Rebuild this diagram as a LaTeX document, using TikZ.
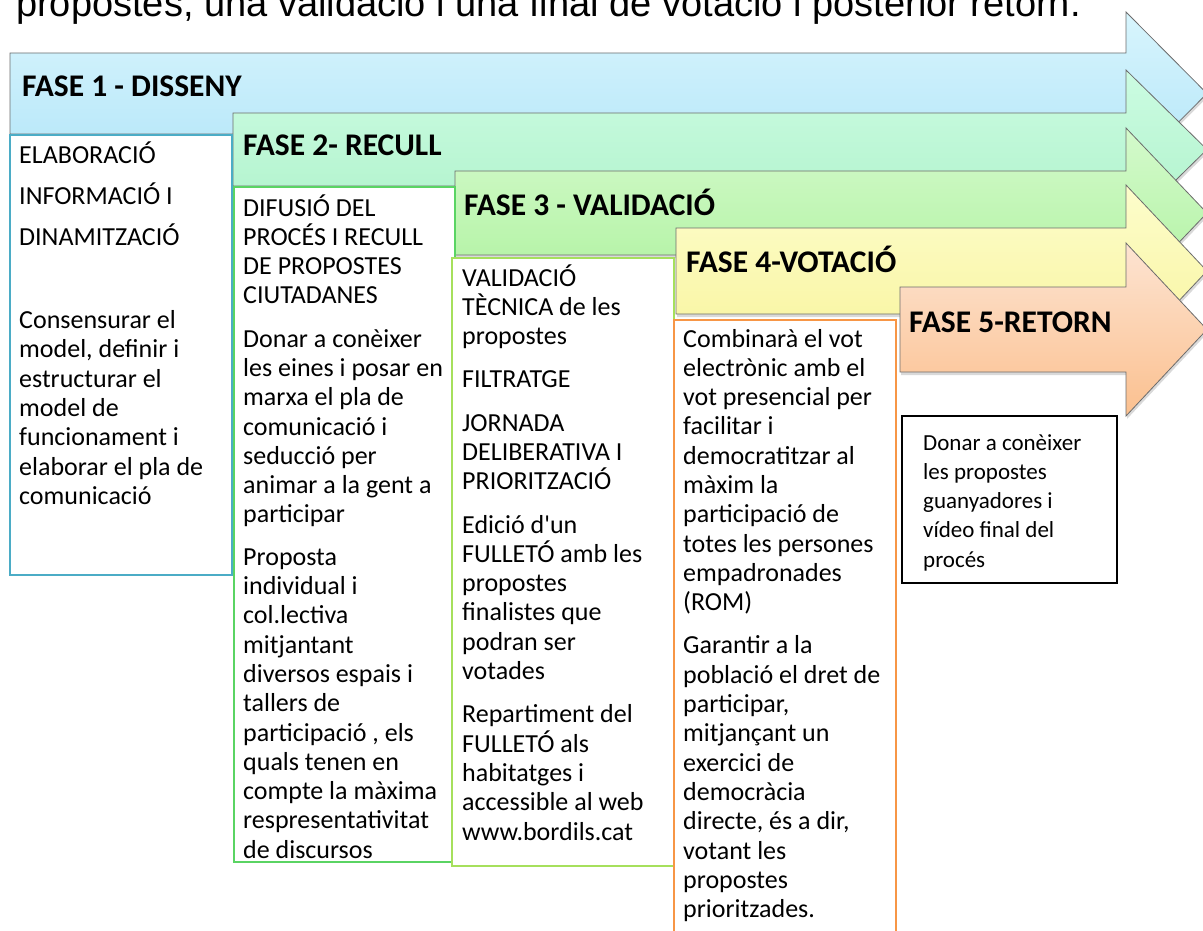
\documentclass[tikz,border=0pt]{standalone}
\usepackage{fontspec}
\setmainfont{Carlito}
\newfontfamily\arialfont{Liberation Sans}
\usepackage{tikz}
\usetikzlibrary{shadows}
\usetikzlibrary{positioning}

\definecolor{fase1top}{HTML}{D8F5FD}
\definecolor{fase1bot}{HTML}{B2E5F8}
\definecolor{fase2top}{HTML}{CCFCE2}
\definecolor{fase2bot}{HTML}{AEF2CA}
\definecolor{fase3top}{HTML}{D4FACC}
\definecolor{fase3bot}{HTML}{AEF29E}
\definecolor{fase4top}{HTML}{FDFDCC}
\definecolor{fase4bot}{HTML}{F8F49C}
\definecolor{fase5top}{HTML}{FDE4D2}
\definecolor{fase5bot}{HTML}{FBC08F}
\definecolor{frame1}{HTML}{4BACC6}
\definecolor{frame2}{HTML}{5AD463}
\definecolor{frame3}{HTML}{A6E05C}
\definecolor{frame4}{HTML}{F79646}

\begin{document}
\begin{tikzpicture}[x=1pt, y=-1pt, phase/.style={draw=gray!85!black, line width=0.8pt, drop shadow={shadow xshift=1pt, shadow yshift=-3pt, opacity=0.3}}, title/.style={anchor=base west, inner sep=0pt, font=\fontsize{31.5}{36}\selectfont\bfseries}, body/.style={anchor=base west, inner sep=0pt, align=flush left, text width=214pt, font=\fontsize{26}{29.3}\selectfont}, frame/.style={line width=1.5pt, fill=white}]
\useasboundingbox (0,0) rectangle (1203,931);
\clip (0,0) rectangle (1203,931);
\node [anchor=base west, inner sep=0pt, font=\arialfont\fontsize{38}{44}\selectfont] (intro) at (16,17) {propostes, una validació i una final de votació i posterior retorn.};
\path [phase, top color=fase1top, bottom color=fase1bot] (10,53) -- (1126,53) -- (1126,12) -- (1207,93.5) -- (1126,175) -- (1126,134) -- (10,134) -- cycle;
\path [phase, top color=fase2top, bottom color=fase2bot] (233,113) -- (1126,113) -- (1126,70) -- (1207,149.5) -- (1126,229) -- (1126,186) -- (233,186) -- cycle;
\path [phase, top color=fase3top, bottom color=fase3bot] (455,171) -- (1126,171) -- (1126,128) -- (1207,213) -- (1126,298) -- (1126,255) -- (455,255) -- cycle;
\path [phase, top color=fase4top, bottom color=fase4bot] (676,228) -- (1126,228) -- (1126,185) -- (1207,271) -- (1126,357) -- (1126,314) -- (676,314) -- cycle;
\path [phase, top color=fase5top, bottom color=fase5bot] (900,287) -- (1126,287) -- (1126,243) -- (1207,329.5) -- (1126,416) -- (1126,372) -- (900,372) -- cycle;
\node [title] (h1) at (22,97) {FASE 1 - DISSENY};
\node [title] (h2) at (243,156) {FASE 2- RECULL};
\node [title] (h3) at (464,215) {FASE 3 - VALIDACIÓ};
\node [title] (h4) at (686,272) {FASE 4-VOTACIÓ};
\node [title] (h5) at (909,332) {FASE 5-RETORN};
\draw [frame, draw=frame1] (10,135) rectangle (232,575);
\draw [frame, draw=frame2] (234,187) rectangle (455,862);
\draw [frame, draw=frame3] (452,258) rectangle (674,866);
\draw [frame, draw=frame4] (674,320) rectangle (896,945);
\draw [frame, draw=black] (902,416) rectangle (1117,583);
\node [body] (t1) at (19,164) {ELABORACIÓ\\[11.5pt]INFORMACIÓ I\\[11.5pt]DINAMITZACIÓ\\[53.7pt]Consensurar el\\model, definir i\\estructurar el\\model de\\funcionament i\\elaborar el pla de\\comunicació};
\node [body] (t2) at (243,216) {DIFUSIÓ DEL\\PROCÉS I RECULL\\DE PROPOSTES\\CIUTADANES\\[14pt]Donar a conèixer\\les eines i posar en\\marxa el pla de\\comunicació i\\seducció per\\animar a la gent a\\participar\\[13pt]Proposta\\individual i\\col.lectiva\\mitjantant\\diversos espais i\\tallers de\\participació , els\\quals tenen en\\compte la màxima\\respresentativitat\\de discursos};
\node [body] (t3) at (462,286) {VALIDACIÓ\\TÈCNICA de les\\propostes\\[14pt]FILTRATGE\\[14pt]JORNADA\\DELIBERATIVA I\\PRIORITZACIÓ\\[14pt]Edició d\textquotesingle un\\FULLETÓ amb les\\propostes\\finalistes que\\podran ser\\votades\\[14pt]Repartiment del\\FULLETÓ als\\habitatges i\\accessible al web\\www.bordils.cat};
\node [body] (t4) at (683,347) {Combinarà el vot\\electrònic amb el\\vot presencial per\\facilitar i\\democratitzar al\\màxim la\\participació de\\totes les persones\\empadronades\\(ROM)\\[14pt]Garantir a la\\població el dret de\\participar,\\mitjançant un\\exercici de\\democràcia\\directe, és a dir,\\votant les\\propostes\\prioritzades.};
\node [body, text width=190pt, font=\fontsize{23}{29.3}\selectfont] (t5) at (923,450) {Donar a conèixer\\les propostes\\guanyadores i\\vídeo final del\\procés};
\end{tikzpicture}
\end{document}
